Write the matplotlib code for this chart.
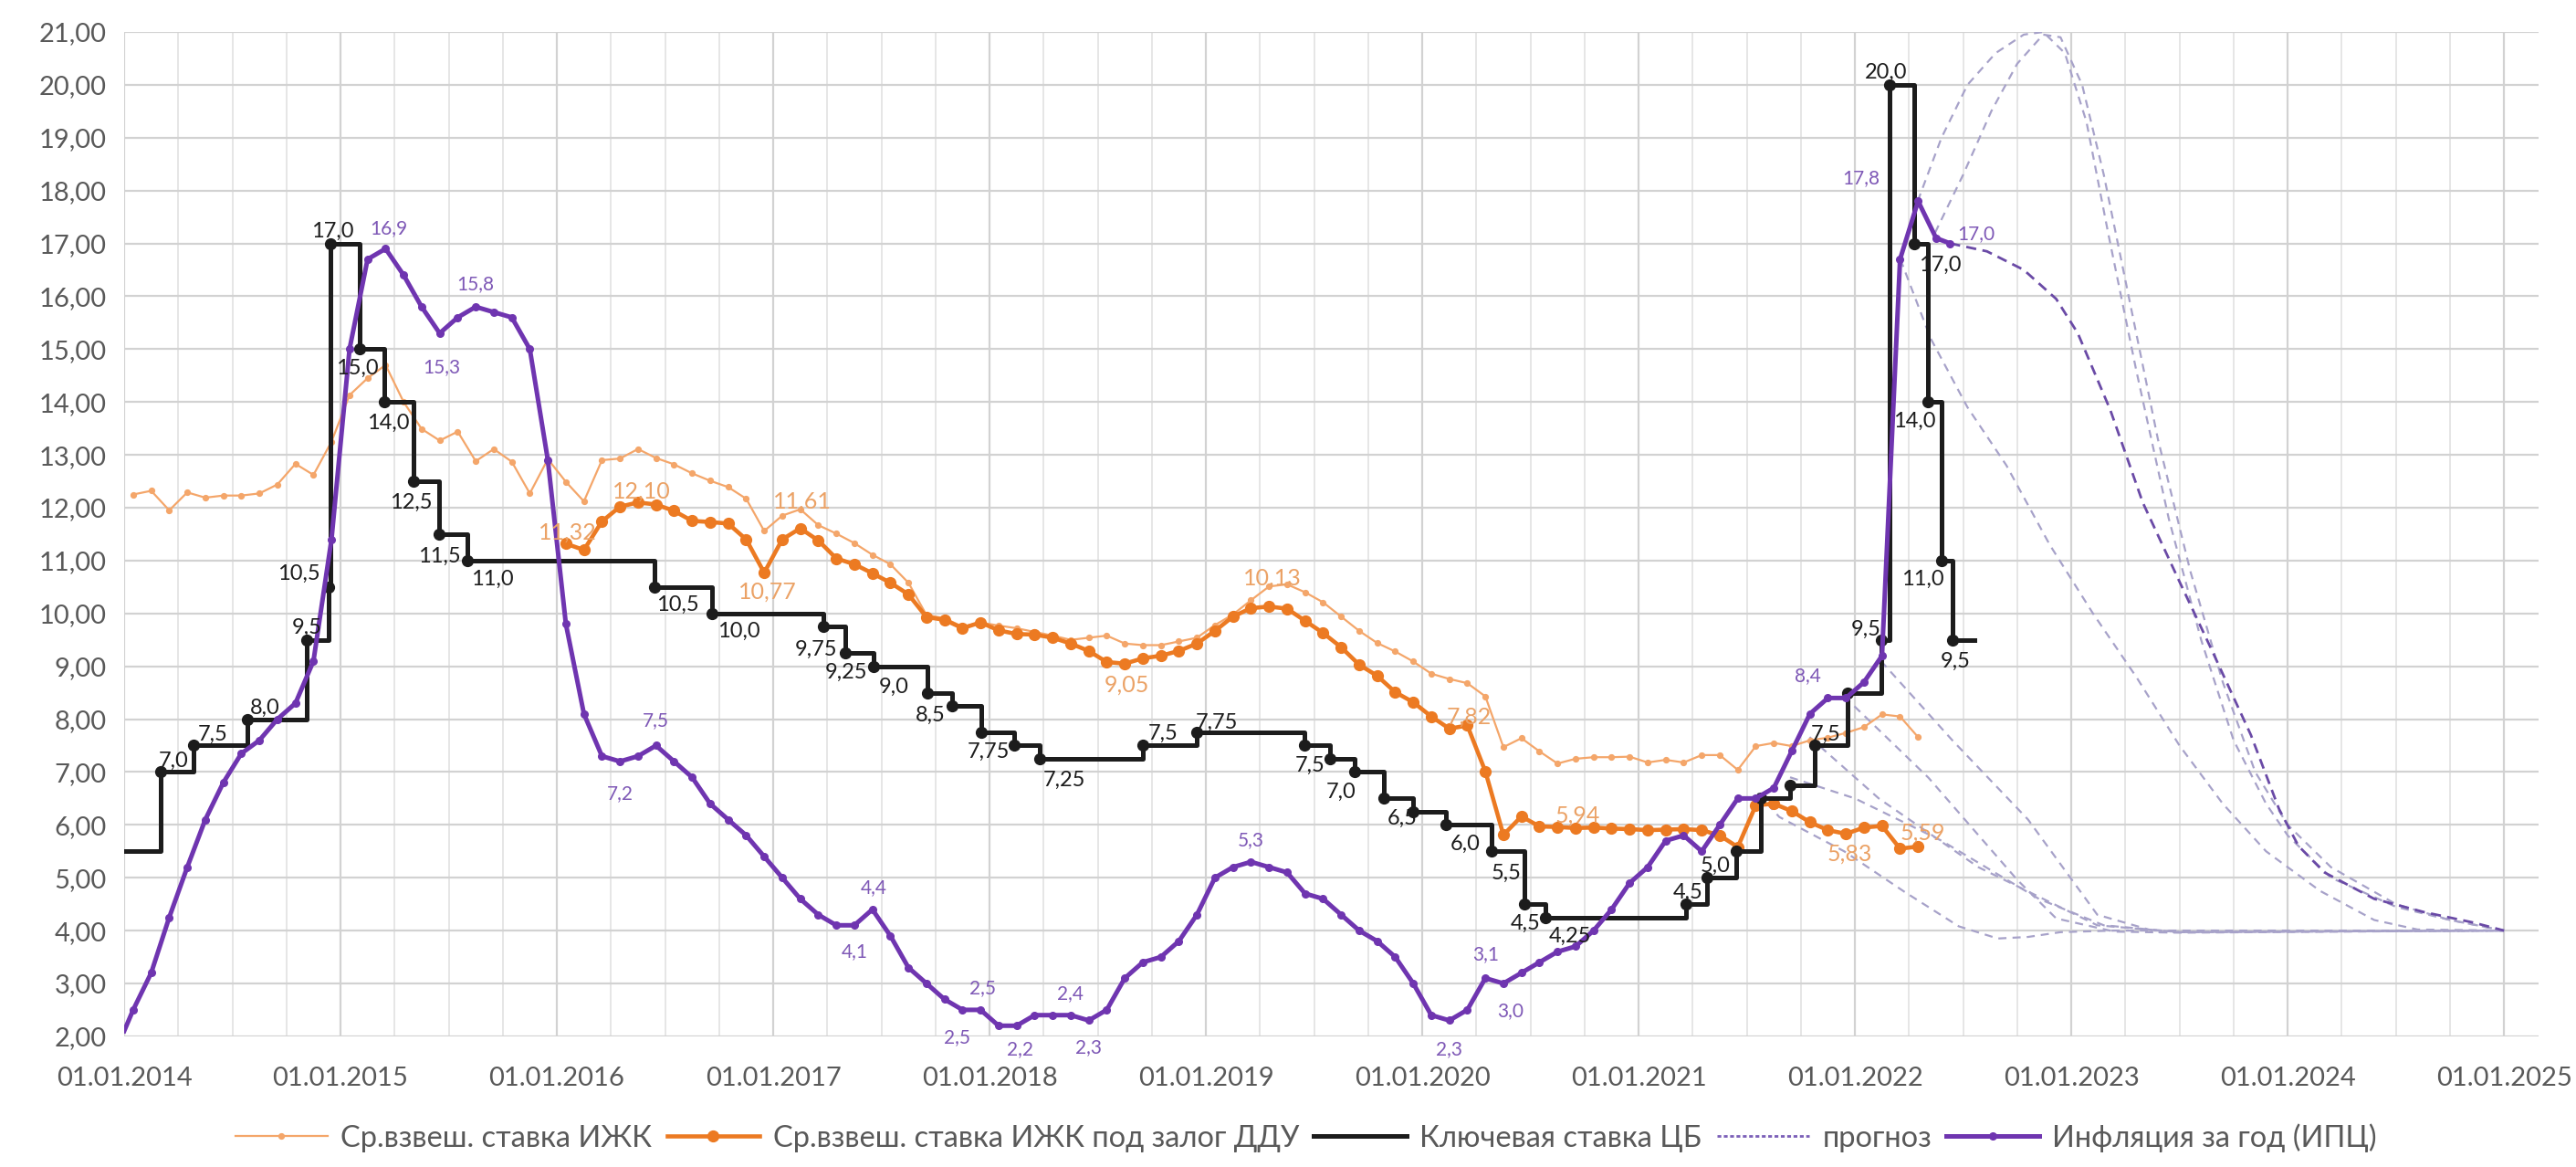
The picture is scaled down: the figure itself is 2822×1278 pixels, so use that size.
import matplotlib
matplotlib.use('Agg')
import matplotlib.pyplot as plt
import numpy as np
import pandas as pd
from matplotlib.lines import Line2D
from matplotlib.ticker import FixedLocator, FuncFormatter

plt.rcParams['font.family'] = ['Lato', 'Open Sans', 'DejaVu Sans']

# ---- data (decimal years on the x axis) ----
# monthly series: points sit in the middle of each month
MONTHS_2014 = [2014 + (i + 0.5) / 12 for i in range(101)]

# Ср.взвеш. ставка ИЖК, Jan 2014 - Apr 2022
izhk = [
    12.25, 12.32, 11.95, 12.29, 12.19, 12.23, 12.23, 12.27, 12.44, 12.83, 12.62, 13.25,
    14.13, 14.45, 14.70, 14.00, 13.49, 13.27, 13.44, 12.88, 13.11, 12.87, 12.27, 12.92,
    12.49, 12.12, 12.90, 12.93, 13.11, 12.94, 12.82, 12.65, 12.51, 12.39, 12.17, 11.56,
    11.85, 11.97, 11.67, 11.51, 11.33, 11.11, 10.93, 10.58, 9.97, 9.91, 9.75, 9.83,
    9.77, 9.72, 9.65, 9.58, 9.50, 9.54, 9.58, 9.43, 9.40, 9.40, 9.47, 9.54,
    9.78, 9.98, 10.25, 10.51, 10.55, 10.40, 10.21, 9.94, 9.67, 9.44, 9.28, 9.09,
    8.86, 8.76, 8.68, 8.43, 7.47, 7.64, 7.39, 7.16, 7.25, 7.28, 7.28, 7.29,
    7.18, 7.23, 7.18, 7.32, 7.32, 7.04, 7.49, 7.55, 7.49, 7.60, 7.65, 7.74,
    7.85, 8.09, 8.05, 7.66,
]
izhk_x = MONTHS_2014[:len(izhk)]

# Ср.взвеш. ставка ИЖК под залог ДДУ, Jan 2016 - Apr 2022
ddu = [
    11.32, 11.20, 11.74, 12.02, 12.10, 12.06, 11.94, 11.75, 11.73, 11.70, 11.40, 10.77,
    11.40, 11.61, 11.38, 11.04, 10.93, 10.76, 10.58, 10.36, 9.93, 9.88, 9.72, 9.83,
    9.68, 9.61, 9.60, 9.54, 9.43, 9.29, 9.08, 9.05, 9.15, 9.20, 9.29, 9.43,
    9.67, 9.94, 10.10, 10.13, 10.09, 9.86, 9.63, 9.36, 9.03, 8.82, 8.51, 8.32,
    8.05, 7.82, 7.88, 7.01, 5.81, 6.16, 5.97, 5.96, 5.94, 5.95, 5.93, 5.92,
    5.90, 5.91, 5.92, 5.90, 5.80, 5.58, 6.37, 6.40, 6.26, 6.05, 5.90, 5.83,
    5.95, 5.98, 5.55, 5.59,
]
ddu_x = MONTHS_2014[24:24 + len(ddu)]
# labelled points and label offsets (px: right, up)
ddu_labels = {0: (2, 12), 4: (4, 12), 11: (4, -21), 13: (2, 29), 31: (2, -23),
              39: (4, 31), 49: (22, 13), 56: (2, 14), 71: (4, -22), 75: (5, 15)}

# Ключевая ставка ЦБ (step changes)
key_dates = [
    '2014-01-01', '2014-03-03', '2014-04-28', '2014-07-28', '2014-11-05', '2014-12-12',
    '2014-12-16', '2015-02-02', '2015-03-16', '2015-05-05', '2015-06-16', '2015-08-03',
    '2016-06-14', '2016-09-19', '2017-03-27', '2017-05-02', '2017-06-19', '2017-09-18',
    '2017-10-30', '2017-12-18', '2018-02-12', '2018-03-26', '2018-09-17', '2018-12-17',
    '2019-06-17', '2019-07-29', '2019-09-09', '2019-10-28', '2019-12-16', '2020-02-10',
    '2020-04-27', '2020-06-22', '2020-07-27', '2021-03-22', '2021-04-26', '2021-06-15',
    '2021-07-26', '2021-09-13', '2021-10-25', '2021-12-20', '2022-02-14', '2022-02-28',
    '2022-04-11', '2022-05-04', '2022-05-27', '2022-06-14', '2022-07-22',
]
key_rate = [
    5.5, 7.0, 7.5, 8.0, 9.5, 10.5,
    17.0, 15.0, 14.0, 12.5, 11.5, 11.0,
    10.5, 10.0, 9.75, 9.25, 9.0, 8.5,
    8.25, 7.75, 7.5, 7.25, 7.5, 7.75,
    7.5, 7.25, 7.0, 6.5, 6.25, 6.0,
    5.5, 4.5, 4.25, 4.5, 5.0, 5.5,
    6.5, 6.75, 7.5, 8.5, 9.5, 20.0,
    17.0, 14.0, 11.0, 9.5, 9.5,
]
key_labels = {
    1: (15, 12), 2: (21, 12), 3: (19, 12), 4: (0, 13), 5: (-33, 14), 6: (2, 13),
    7: (-2, -21), 8: (4, -23), 9: (-3, -23), 10: (1, -24), 11: (27, -20),
    12: (25, -20), 13: (29, -20), 14: (-8, -25), 15: (1, -21), 16: (22, -23),
    17: (3, -25), 19: (8, -21), 21: (27, -23), 22: (22, 13), 23: (22, 11),
    24: (6, -22), 26: (-15, -22), 27: (20, -22), 29: (21, -21), 30: (16, -24),
    31: (1, -21), 32: (27, -21), 33: (2, 13), 34: (9, 13), 38: (12, 12),
    40: (-16, 11), 41: (-4, 14), 42: (28, -24), 43: (-15, -21), 44: (-21, -20),
    45: (4, -24),
}

# Инфляция за год (ИПЦ): start of 2014, monthly Jan 2014 - May 2022, latest reading
cpi = [
    2.1,
    2.5, 3.2, 4.25, 5.2, 6.1, 6.8, 7.35, 7.6, 8.0, 8.3, 9.1, 11.4,
    15.0, 16.7, 16.9, 16.4, 15.8, 15.3, 15.6, 15.8, 15.7, 15.6, 15.0, 12.9,
    9.8, 8.1, 7.3, 7.2, 7.3, 7.5, 7.2, 6.9, 6.4, 6.1, 5.8, 5.4,
    5.0, 4.6, 4.3, 4.1, 4.1, 4.4, 3.9, 3.3, 3.0, 2.7, 2.5, 2.5,
    2.2, 2.2, 2.4, 2.4, 2.4, 2.3, 2.5, 3.1, 3.4, 3.5, 3.8, 4.3,
    5.0, 5.2, 5.3, 5.2, 5.1, 4.7, 4.6, 4.3, 4.0, 3.8, 3.5, 3.0,
    2.4, 2.3, 2.5, 3.1, 3.0, 3.2, 3.4, 3.6, 3.7, 4.0, 4.4, 4.9,
    5.2, 5.7, 5.8, 5.5, 6.0, 6.5, 6.5, 6.7, 7.4, 8.1, 8.4, 8.4,
    8.7, 9.2, 16.7, 17.8, 17.1,
    17.0,
]
cpi_x = [2014.0] + MONTHS_2014[:len(cpi) - 2] + [2022.44]
cpi_labels = {
    15: (3, 22), 18: (2, -37), 20: (0, 25), 28: (0, -35), 30: (0, 27),
    41: (0, -29), 42: (2, 24), 47: (-6, -30), 48: (2, 24), 50: (4, -26),
    53: (0, 24), 54: (0, -30), 63: (0, 24), 74: (0, -32), 76: (0, 26),
    77: (8, -30), 95: (-22, 24), 100: (-62, 25), 102: (28, 10),
}

# прогноз (forecast paths)
fc_dark_x = [2022.44, 2022.61, 2022.78, 2022.93, 2023.03, 2023.18, 2023.33, 2023.5, 2023.65,
             2023.83, 2023.96, 2024.05, 2024.17, 2024.4, 2024.63, 2024.86, 2025.0]
fc_dark_y = [17.0, 16.85, 16.5, 15.95, 15.3, 13.85, 12.1, 10.6, 9.3,
             7.7, 6.3, 5.6, 5.1, 4.6, 4.35, 4.15, 4.0]
fc_light = [
    ([2022.29, 2022.4, 2022.52, 2022.65, 2022.78, 2022.87, 2022.97, 2023.07, 2023.17, 2023.3,
      2023.45, 2023.6, 2023.75, 2023.9, 2024.0, 2024.2, 2024.5, 2024.75, 2025.0],
     [17.8, 19.0, 20.0, 20.6, 20.95, 21.0, 20.6, 19.3, 17.2, 14.6,
      11.8, 9.5, 7.6, 6.4, 5.8, 5.0, 4.45, 4.2, 4.0]),
    ([2022.37, 2022.5, 2022.63, 2022.75, 2022.87, 2022.95, 2023.05, 2023.15, 2023.27, 2023.4,
      2023.55, 2023.7, 2023.85, 2024.0, 2024.2, 2024.5, 2024.75, 2025.0],
     [17.2, 18.3, 19.5, 20.4, 20.95, 20.9, 20.0, 18.3, 15.9, 13.3,
      10.8, 8.7, 7.0, 6.0, 5.2, 4.5, 4.2, 4.0]),
    ([2022.21, 2022.35, 2022.52, 2022.7, 2022.9, 2023.1, 2023.3, 2023.5, 2023.7, 2023.9,
      2024.15, 2024.4, 2024.6, 2025.0],
     [16.7, 15.2, 13.9, 12.8, 11.3, 10.0, 8.8, 7.5, 6.4, 5.5, 4.75, 4.2, 4.02, 4.0]),
    ([2022.12, 2022.45, 2022.8, 2023.12, 2023.4, 2025.0],
     [9.1, 7.6, 6.1, 4.3, 3.97, 4.0]),
    ([2021.95, 2022.34, 2022.75, 2022.93, 2023.2, 2023.5, 2025.0],
     [8.43, 6.89, 4.96, 4.23, 3.98, 3.96, 4.0]),
    ([2021.79, 2022.11, 2022.57, 2022.84, 2023.12, 2023.5, 2025.0],
     [7.66, 6.5, 5.2, 4.66, 4.1, 3.97, 4.0]),
    ([2021.7, 2022.0, 2022.4, 2022.85, 2023.15, 2023.5, 2025.0],
     [6.9, 6.5, 5.7, 4.6, 4.1, 3.97, 4.0]),
    ([2021.55, 2021.65, 2021.95, 2022.23, 2022.48, 2022.66, 2022.8, 2022.95, 2023.2, 2025.0],
     [6.6, 6.15, 5.5, 4.73, 4.08, 3.85, 3.88, 3.97, 4.0, 4.0]),
]

YEARS = list(range(2014, 2026))

# ---- colours ----
C_IZHK = '#F4A66A'
C_DDU = '#EC7A22'
C_KEY = '#1C1C1C'
C_CPI = '#6F35B0'
C_CPI_TXT = '#7E58B6'
C_ORANGE_TXT = '#EBA266'
C_FC = '#A7A2C9'
C_FC_DARK = '#6A4AA6'
C_TICK = '#595959'


def to_year(d):
    t = pd.Timestamp(d)
    return t.year + (t.dayofyear - 1) / 365.25


def fmt_num(v, dec=None):
    if dec is None:
        dec = 1 if abs(v * 10 - round(v * 10)) < 1e-9 else 2
    return f'{v:.{dec}f}'.replace('.', ',')


def label(ax, x, y, text, off, color, size):
    ax.annotate(text, (x, y), xytext=(off[0] * 0.72, off[1] * 0.72),
                textcoords='offset points', ha='center', va='center',
                color=color, fontsize=size, zorder=10)


fig = plt.figure(figsize=(28.22, 12.78), dpi=100)
ax = fig.add_axes([0.0482, 0.112, 0.9373, 0.8606])

# forecasts (drawn first, below everything)
for xs, ys in fc_light:
    ax.plot(xs, ys, color=C_FC, lw=1.6, ls=(0, (4, 3)), zorder=2)
ax.plot(fc_dark_x, fc_dark_y, color=C_FC_DARK, lw=2.0, ls=(0, (4, 2.5)), zorder=2.1)

# weighted mortgage rate
ax.plot(izhk_x, izhk, color=C_IZHK, lw=1.6, marker='o', ms=4.2, zorder=3)

# DDU mortgage rate
ax.plot(ddu_x, ddu, color=C_DDU, lw=3.3, marker='o', ms=8.5, zorder=4)
for i, off in ddu_labels.items():
    label(ax, ddu_x[i], ddu[i], fmt_num(ddu[i], 2), off, C_ORANGE_TXT, 18)

# key rate
key_x = [to_year(d) for d in key_dates]
ax.step(key_x, key_rate, where='post', color=C_KEY, lw=3.6, zorder=5)
ax.plot(key_x[1:-1], key_rate[1:-1], ls='none', marker='o', ms=8.5, color=C_KEY, zorder=5.1)
for i, off in key_labels.items():
    label(ax, key_x[i], key_rate[i], fmt_num(key_rate[i]), off, C_KEY, 17)

# inflation
ax.plot(cpi_x, cpi, color=C_CPI, lw=3.6, zorder=6)
ax.plot(cpi_x[1:], cpi[1:], ls='none', marker='o', ms=5.5, color=C_CPI, zorder=6.1)
for i, off in cpi_labels.items():
    label(ax, cpi_x[i], cpi[i], fmt_num(cpi[i], 1), off, C_CPI_TXT, 15)

# ---- axes ----
ax.set_xlim(2014, 2025.16)
ax.set_ylim(2, 21)
ax.xaxis.set_major_locator(FixedLocator(YEARS))
ax.xaxis.set_minor_locator(FixedLocator([y + q / 4 for y in YEARS[:-1] for q in (1, 2, 3)]))
ax.xaxis.set_major_formatter(FuncFormatter(lambda v, p: f'01.01.{int(round(v))}'))
ax.yaxis.set_major_locator(FixedLocator(list(range(2, 22))))
ax.yaxis.set_major_formatter(FuncFormatter(lambda v, p: f'{v:.2f}'.replace('.', ',')))
ax.grid(which='major', color='#D2D2D2', lw=1.6, zorder=0)
ax.grid(which='minor', axis='x', color='#E4E4E4', lw=1.3, zorder=0)
ax.set_axisbelow(True)
for s in ax.spines.values():
    s.set_visible(False)
ax.tick_params(axis='both', which='both', length=0, labelsize=21, colors=C_TICK)
ax.tick_params(axis='x', pad=24)
ax.tick_params(axis='y', pad=14)

handles = [
    Line2D([], [], color=C_IZHK, lw=1.6, marker='o', ms=4.2),
    Line2D([], [], color=C_DDU, lw=3.3, marker='o', ms=8.5),
    Line2D([], [], color=C_KEY, lw=3.6),
    Line2D([], [], color='#7B5FB8', lw=2.0, ls=(0, (1.5, 1))),
    Line2D([], [], color=C_CPI, lw=3.6, marker='o', ms=5.5),
]
names = ['Ср.взвеш. ставка ИЖК', 'Ср.взвеш. ставка ИЖК под залог ДДУ', 'Ключевая ставка ЦБ',
         'прогноз', 'Инфляция за год (ИПЦ)']
leg = fig.legend(handles, names, loc='center', bbox_to_anchor=(0.507, 0.025), ncol=5,
                 frameon=False, fontsize=23.5, handlelength=3.1, handletextpad=0.45,
                 columnspacing=0.5, numpoints=1)
for t in leg.get_texts():
    t.set_color(C_TICK)

fig.savefig('out.png', dpi=100)
